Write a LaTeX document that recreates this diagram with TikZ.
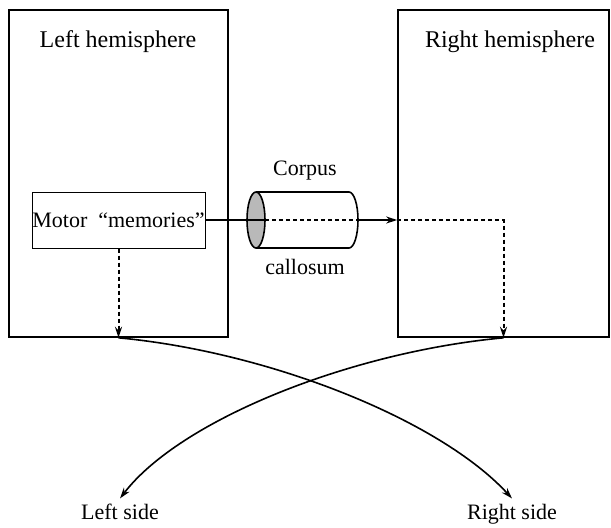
\documentclass[tikz,border=0pt]{standalone}
\usepackage{fontspec}
\setmainfont{Liberation Serif}
\usetikzlibrary{arrows.meta}
\tikzset{
  hemi/.style={draw, rectangle, line width=0.8pt, minimum width=#1, minimum height=163.5pt, inner sep=0pt},
  dotted arrow/.style={->, line width=1pt, dash pattern=on 2pt off 1.5pt},
  sidelabel/.style={text height=0.7em, text depth=0.25em},
}
\begin{document}
\begin{tikzpicture}[x=0.5pt,y=-0.5pt,>={Stealth[length=5.5pt,width=3.5pt]},font=\fontsize{11}{13}\selectfont]
\useasboundingbox (0,0) rectangle (611,527);
\node[hemi=109.5pt] (lh) at (118.5,173.5) {};
\node[hemi=105.5pt] (rh) at (503.5,173.5) {};
\node[font=\fontsize{12}{14}\selectfont] (lht) at (118,42) {Left hemisphere};
\node[font=\fontsize{12}{14}\selectfont] (rht) at (510,42) {Right hemisphere};
\node[draw, rectangle, line width=0.5pt, minimum width=86.5pt, minimum height=28pt, inner sep=0pt] (mem) at (118.5,220) {Motor\ \ ``memories''};
\node (cor) at (305,171) {Corpus};
\node (cal) at (305,267) {callosum};
\node[sidelabel] (ls) at (120,515) {Left side};
\node[sidelabel] (rs) at (512,515) {Right side};
% corpus callosum cylinder
\coordinate (cl) at (256,220);
\coordinate (cr) at (349,220);
\coordinate (cin) at (265,220);
\coordinate (cout) at (358,220);
\draw[line width=0.8pt] (256,192) -- (349,192) arc[start angle=90, end angle=-90, x radius=4.5pt, y radius=14pt] -- (256,248);
\filldraw[line width=0.8pt, fill=gray!55] (cl) ellipse[x radius=4.5pt, y radius=14pt];
% path across the corpus callosum
\draw[line width=0.8pt] (mem.east) -- (cin);
\draw[line width=1pt, dash pattern=on 2pt off 1.5pt] (cin) -- (cout);
\draw[->, line width=0.8pt] (cout) -- (rh.west |- mem.east);
\draw[dotted arrow] (rh.west |- mem.east) -| (rh.south);
\draw[dotted arrow] (mem.south) -- (lh.south);
% crossed outputs
\draw[->, line width=0.8pt] (lh.south) .. controls (270,352) and (440,420) .. (rs.north);
\draw[->, line width=0.8pt] (rh.south) .. controls (350,352) and (180,420) .. (ls.north);
\end{tikzpicture}
\end{document}
